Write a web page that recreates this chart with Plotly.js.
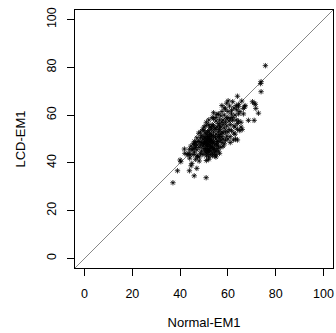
<!DOCTYPE html>
<html>
<head>
<meta charset="utf-8">
<script src="https://cdn.plot.ly/plotly-3.0.1.min.js"></script>
<style>html,body{margin:0;padding:0;background:#fff;}#chart{width:336px;height:333px;}</style>
</head>
<body>
<div id="chart"></div>
<script>
// Normal-EM1 (x) and LCD-EM1 (y)
const normalEM1 = [
75.7,73.9,73.7,73.9,72.8,71.7,71.0,70.3,71.5,68.6,71.0,60.1,64.0,62.0,60.7,65.8,67.0,64.4,63.7,66.5,67.2,
37.0,38.9,40.0,40.3,41.8,43.9,43.6,44.2,44.9,44.6,43.9,45.9,47.0,48.0,47.3,50.9,47.8,50.8,
62.3,64.0,63.2,61.0,59.5,65.0,66.0,63.0,60.0,58.0,57.5,56.0,55.5,54.5,53.5,52.0,51.0,50.5,49.0,48.0,46.5,45.5,46.0,47.0,45.0,44.5,
55.4,57.0,58.5,59.0,60.5,62.0,63.5,64.5,65.0,63.0,61.5,60.0,58.0,57.0,56.0,55.0,54.0,53.5,52.5,53.0,54.5,56.5,57.5,58.5,59.5,61.0,62.5,64.0,65.5,66.5,64.5,63.5,62.5,61.5,60.0,59.0,57.5,58.0,56.5,55.5,
50.0,50.5,51.0,51.5,52.0,52.0,52.5,53.0,53.0,53.0,53.5,54.0,54.0,54.0,54.5,55.0,55.0,55.5,56.0,56.0,51.0,51.5,52.0,52.5,53.0,53.5,54.0,52.5,51.0,51.5,52.0,50.0,50.5,49.5,49.0,49.5,50.0,50.5,48.5,48.0,49.0,48.5,51.0,51.5,52.0,52.5,53.0,52.5,51.5,50.5,51.0,52.0,53.5,54.5,55.0,55.5,56.0,56.5,57.0,57.0,57.5,58.0,55.0,54.0,53.0,52.0,56.5,57.5,50.0,49.5,48.5,47.5,47.0,46.5,46.0,45.5,47.0,50.0,51.0,52.0,53.5,55.0,56.0,54.0,57.5,59.5,58.5,60.5,59.0,61.5,62.5,60.0,58.5,57.0,56.0,55.0,52.0,51.0,55.0,56.5,58.0,59.0,61.0,63.0,64.0,65.5,64.5,62.0,61.0,59.5,
45.5,46.0,47.0,48.5,49.5,48.0,46.5,43.0,42.0,44.0,
52.2,53.2,51.2,50.2,52.8,53.8,54.8,51.8,50.8,49.8,53.3,54.3,52.3,55.3,56.3
];
const lcdEM1 = [
80.7,74.0,73.2,69.8,60.8,62.8,65.0,65.6,64.5,57.8,57.8,66.0,67.9,65.6,63.8,65.9,63.5,63.5,62.2,62.8,64.0,
31.7,36.7,41.2,40.5,45.8,45.7,44.0,43.3,39.8,38.8,36.7,34.6,37.7,40.8,42.6,33.8,52.4,55.6,
49.6,49.6,50.0,51.0,51.2,53.5,54.0,55.0,53.0,50.0,48.5,47.0,46.0,43.0,43.0,42.5,43.0,44.5,45.0,46.5,46.5,46.0,47.5,45.5,45.5,47.0,
60.3,59.7,60.0,57.0,57.5,57.8,58.0,60.5,61.5,60.0,60.5,59.0,56.0,55.0,56.5,57.5,58.5,56.0,55.0,54.0,54.5,54.0,53.0,54.5,55.5,56.0,55.5,56.5,57.0,60.5,64.5,64.0,63.0,62.0,61.5,62.5,61.5,58.0,58.0,55.0,
48.0,49.0,50.0,47.0,48.0,51.0,49.5,47.0,50.0,52.0,48.5,49.0,51.0,53.0,47.5,50.0,52.0,49.0,51.0,53.0,46.0,45.0,44.5,46.0,45.0,46.5,45.5,43.5,52.0,53.0,53.5,51.0,52.5,50.0,48.5,47.0,46.0,45.5,47.5,49.0,51.5,50.5,48.5,49.5,50.0,51.0,49.0,47.5,51.0,50.5,44.0,45.5,44.0,44.5,45.0,47.5,49.0,50.5,52.0,49.5,51.0,52.5,54.0,55.5,55.0,56.0,55.5,57.0,53.5,54.0,53.0,49.0,47.5,48.5,49.0,48.0,50.5,55.0,57.0,58.0,59.0,59.0,60.5,61.0,64.0,65.0,63.0,54.0,53.0,53.5,52.5,50.0,48.0,46.5,45.0,43.5,41.5,41.0,42.5,44.0,47.0,49.5,48.5,52.0,54.0,55.0,57.5,59.0,58.5,58.5,
43.5,44.5,43.0,44.0,43.5,42.5,41.5,43.5,44.0,42.0,
48.7,49.7,47.7,49.2,46.8,48.2,50.8,45.2,47.2,48.0,51.5,46.2,52.2,48.2,51.8
];
const axisTicks = [0, 20, 40, 60, 80, 100];
const axisRange = [-4, 104];

const trace = {
  x: normalEM1, y: lcdEM1, type: 'scatter', mode: 'markers',
  marker: {symbol: 'asterisk-open', size: 4.5, color: '#000', line: {color: '#000', width: 0.8}},
  hoverinfo: 'skip'
};
const fontFam = 'Liberation Sans, Arial, sans-serif';
const axisCommon = {
  range: axisRange, tickvals: axisTicks, ticktext: axisTicks.map(String),
  ticks: 'outside', ticklen: 7, tickwidth: 1, tickcolor: '#000',
  showline: true, mirror: true, linecolor: '#000', linewidth: 1,
  showgrid: false, zeroline: false, automargin: false,
  tickfont: {family: fontFam, size: 12.5, color: '#000'}
};
const layout = {
  width: 336, height: 333,
  margin: {l: 75, r: 3, t: 10, b: 65},
  paper_bgcolor: '#fff', plot_bgcolor: '#fff', showlegend: false,
  xaxis: Object.assign({}, axisCommon, {
    ticklabelstandoff: 7,
    title: {text: 'Normal-EM1', standoff: 17, font: {family: fontFam, size: 13, color: '#000'}}
  }),
  yaxis: Object.assign({}, axisCommon, {
    tickangle: -90, ticklabelstandoff: 6,
    title: {text: 'LCD-EM1', standoff: 16, font: {family: fontFam, size: 13, color: '#000'}}
  }),
  shapes: [{type: 'line', xref: 'paper', yref: 'paper', x0: 0, y0: 0, x1: 1, y1: 1, line: {color: '#888', width: 1}, layer: 'below'}]
};
Plotly.newPlot('chart', [trace], layout, {staticPlot: true, displayModeBar: false});
</script>
</body>
</html>
